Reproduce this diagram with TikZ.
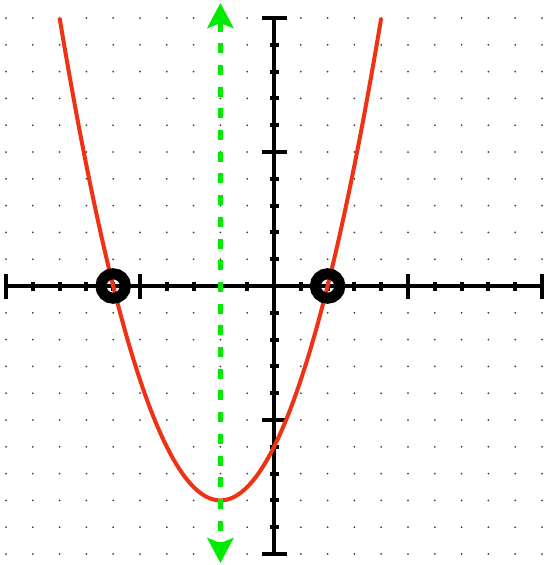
\documentclass[tikz,border=0pt]{standalone}
\usetikzlibrary{arrows.meta}
\definecolor{curvered}{RGB}{240,50,20}
\definecolor{symgreen}{RGB}{0,235,0}
\begin{document}
\begin{tikzpicture}[x=26.8pt,y=26.8pt,
  axisline/.style={line width=3.5pt, black},
  minortick/.style={line width=4pt, black},
  majortick/.style={line width=3.5pt, black},
  griddot/.style={fill=black!75},
  curveline/.style={curvered, line width=4pt},
  symline/.style={symgreen, line width=5pt, dash pattern=on 10pt off 11.7pt,
    {Stealth[length=25pt,width=26pt,inset=5pt]}-{Stealth[length=25pt,width=26pt,inset=5pt]}},
  rootmark/.style={circle, draw=black, line width=11pt, minimum size=24.5pt, inner sep=0pt}
]
\useasboundingbox (-10.224,-10.41) rectangle (10.187,10.672);
% grid dots
\foreach \i in {-10,...,10}{
  \foreach \j in {-10,...,10}{
    \fill[griddot] (\i,\j) circle (1pt);
  }
}
% axes
\draw[axisline] (-10,0) -- (10,0);
\draw[axisline] (0,-10) -- (0,10);
\foreach \t in {-9,-8,-7,-6,-4,-3,-2,-1,1,2,3,4,6,7,8,9}{
  \draw[minortick] (\t,-4.5pt) -- (\t,4.5pt);
  \draw[minortick] (-4.5pt,\t) -- (4.5pt,\t);
}
\foreach \t in {-10,-5,5,10}{
  \draw[majortick] (\t,-12.5pt) -- (\t,12.5pt);
  \draw[majortick] (-12.5pt,\t) -- (12.5pt,\t);
}
% parabola
\draw[curveline] plot[domain=-8:4, samples=121, smooth] (\x,{0.5*(\x+2)*(\x+2)-8});
% axis of symmetry
\coordinate (gtop) at (-2,10.56);
\coordinate (gbot) at (-2,-10.34);
\draw[symline] (gtop) -- (gbot);
% roots
\node[rootmark] (r1) at (-6,0) {};
\node[rootmark] (r2) at (2,0) {};
\end{tikzpicture}
\end{document}
